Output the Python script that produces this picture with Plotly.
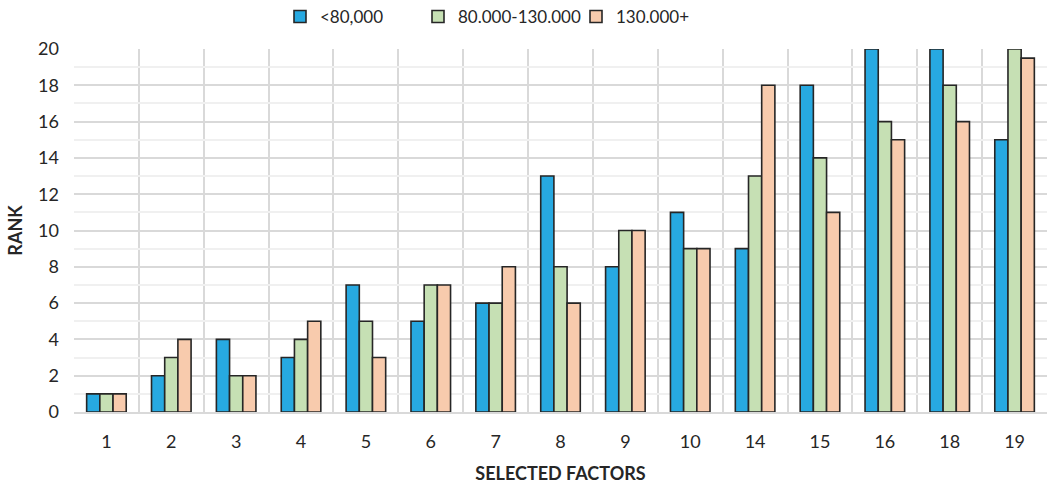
import plotly.graph_objects as go

factors = ["1", "2", "3", "4", "5", "6", "7", "8", "9", "10", "14", "15", "16", "18", "19"]
low_income = [1, 2, 4, 3, 7, 5, 6, 13, 8, 11, 9, 18, 20, 20, 15]
mid_income = [1, 3, 2, 4, 5, 7, 6, 8, 10, 9, 13, 14, 16, 18, 20]
high_income = [1, 4, 2, 5, 3, 7, 8, 6, 10, 9, 18, 11, 15, 16, 19.5]

series = [
    ("<80,000", low_income, "#27a9e1", "legend"),
    ("80.000-130.000", mid_income, "#c6e0b4", "legend2"),
    ("130.000+", high_income, "#f8cbad", "legend3"),
]

positions = list(range(len(factors)))

fig = go.Figure()
for name, vals, color, leg in series:
    fig.add_trace(go.Bar(
        x=positions, y=vals, name=name, legend=leg, showlegend=True,
        marker=dict(color=color, line=dict(color="#262626", width=1.6)),
    ))

font_family = "Lato, 'Open Sans', sans-serif"


def legend_box(left_px):
    return dict(orientation="h", xref="container", yref="container",
                x=left_px / 1052, xanchor="left", y=1 - 17 / 486, yanchor="middle",
                font=dict(size=17), itemwidth=30, bgcolor="rgba(0,0,0,0)")


fig.update_layout(
    width=1052, height=486,
    margin=dict(l=74, r=5, t=49, b=74, autoexpand=False),
    paper_bgcolor="white", plot_bgcolor="white",
    barmode="group", bargap=0.39, bargroupgap=0,
    font=dict(family=font_family, size=18, color="#262626"),
    showlegend=True,
    legend=legend_box(280),
    legend2=legend_box(418),
    legend3=legend_box(576),
    xaxis=dict(
        range=[-0.5, len(factors) - 0.5],
        tickmode="array", tickvals=positions, ticktext=factors,
        showgrid=False, ticks="", ticklabelstandoff=12,
        showline=True, linecolor="#d9d9d9", linewidth=2,
        minor=dict(tickmode="linear", tick0=-0.5, dtick=1, showgrid=True,
                   gridcolor="#d9d9d9", gridwidth=1.5),
        title=dict(text="<b>SELECTED FACTORS</b>", font=dict(size=18), standoff=17),
        zeroline=False,
    ),
    yaxis=dict(
        range=[0, 20], dtick=2, tick0=0,
        showgrid=True, gridcolor="#d9d9d9", gridwidth=1.5,
        minor=dict(dtick=1, showgrid=True, gridcolor="#f0f0f0", gridwidth=1.5),
        title=dict(text="<b>RANK</b>", font=dict(size=18), standoff=10),
        zeroline=False, ticks="", ticklabelstandoff=14,
    ),
)

fig.write_html("out.html")
